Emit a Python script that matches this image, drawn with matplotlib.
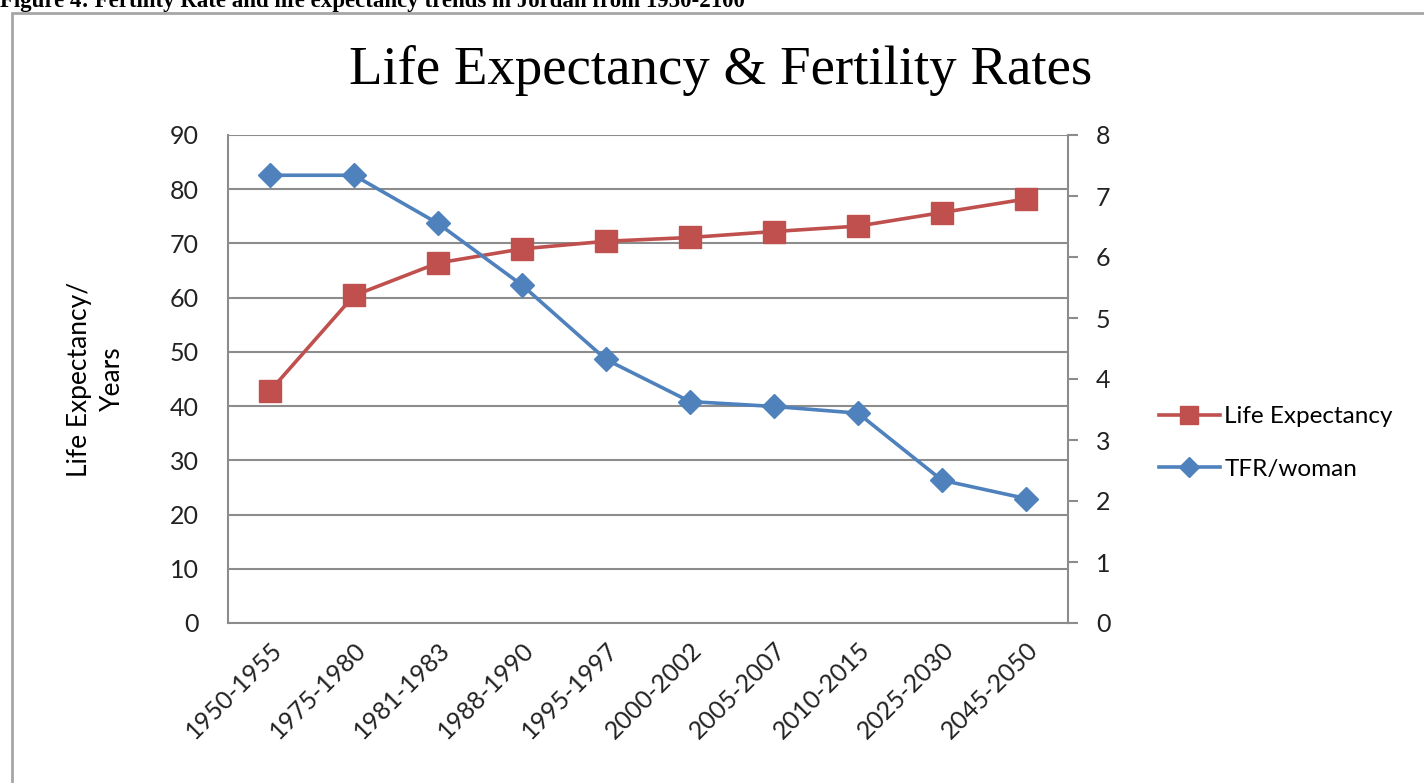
import matplotlib
matplotlib.use("Agg")
import matplotlib.pyplot as plt
from matplotlib.patches import Rectangle

# --- DATA ---
periods = ["1950-1955", "1975-1980", "1981-1983", "1988-1990", "1995-1997",
           "2000-2002", "2005-2007", "2010-2015", "2025-2030", "2045-2050"]
life_expectancy = [42.8, 60.4, 66.4, 69.0, 70.4, 71.1, 72.2, 73.2, 75.7, 78.2]
tfr_woman = [7.34, 7.34, 6.55, 5.54, 4.32, 3.63, 3.55, 3.44, 2.34, 2.04]

left_ticks = list(range(0, 100, 10))
right_ticks = list(range(0, 9))

red = "#C0504D"
blue = "#4F81BD"
grid_gray = "#8C8C8C"
tick_font = "Lato"
tick_size = 18

fig = plt.figure(figsize=(14.24, 7.83), dpi=100)

# outer frame + cut off caption
fig.patches.append(Rectangle((12 / 1424, -0.05), 1.1, 1 - 13 / 783 + 0.05,
                             transform=fig.transFigure, fill=False,
                             edgecolor="#A6A6A6", lw=2.0))
fig.text(0.0, 1 - 7 / 783, "Figure 4: Fertility Rate and life expectancy trends in Jordan from 1950-2100",
         family="Liberation Serif", weight="bold", fontsize=16.5, va="baseline", ha="left")

ax = fig.add_axes([228 / 1424, 1 - 623 / 783, (1068 - 228) / 1424, (623 - 135) / 783])
x = list(range(len(periods)))

ax.set_ylim(0, 90)
ax.set_yticks(left_ticks)
ax.set_xlim(-0.5, len(periods) - 0.5)
ax.grid(axis="y", color=grid_gray, lw=1.5)
ax.set_axisbelow(True)
ax.tick_params(axis="y", length=0, pad=21, labelsize=tick_size, labelcolor="#222222")
ax.tick_params(axis="x", length=0, pad=11, labelsize=tick_size, labelcolor="#222222")
for lab in ax.get_yticklabels():
    lab.set_family(tick_font)
ax.set_xticks(x)
ax.set_xticklabels(periods, rotation=45, ha="right", rotation_mode="anchor",
                   family=tick_font)
for side in ["top", "right"]:
    ax.spines[side].set_visible(False)
for side in ["left", "bottom"]:
    ax.spines[side].set_color(grid_gray)
    ax.spines[side].set_linewidth(1.5)

l1, = ax.plot(x, life_expectancy, color=red, lw=2.6, marker="s", markersize=16,
              label="Life Expectancy", zorder=3)

ax.set_ylabel("Life Expectancy/\nYears", family=tick_font, fontsize=19,
              labelpad=32, linespacing=1.4)

ax2 = ax.twinx()
ax2.set_ylim(0, 8)
ax2.set_yticks(right_ticks)
l2, = ax2.plot(x, tfr_woman, color=blue, lw=2.6, marker="D", markersize=12,
               label="TFR/woman", zorder=3)
ax2.tick_params(axis="y", direction="out", length=7, width=1.5, color=grid_gray,
                pad=13, labelsize=tick_size, labelcolor="#222222")
for lab in ax2.get_yticklabels():
    lab.set_family(tick_font)
for side in ["top", "left", "bottom"]:
    ax2.spines[side].set_visible(False)
ax2.spines["right"].set_color(grid_gray)
ax2.spines["right"].set_linewidth(1.5)

leg = fig.legend(handles=[l1, l2], loc="center left",
                 bbox_to_anchor=(1137 / 1424, 1 - 443 / 783), frameon=False,
                 prop={"family": tick_font, "size": 17.5}, handlelength=2.5,
                 handletextpad=0.2, labelspacing=1.3, markerscale=0.85)

fig.suptitle("Life Expectancy & Fertility Rates", family="Liberation Serif",
             fontsize=39.5, x=721 / 1424, y=1 - 70 / 783, va="center")

fig.savefig("out.png", dpi=100)
